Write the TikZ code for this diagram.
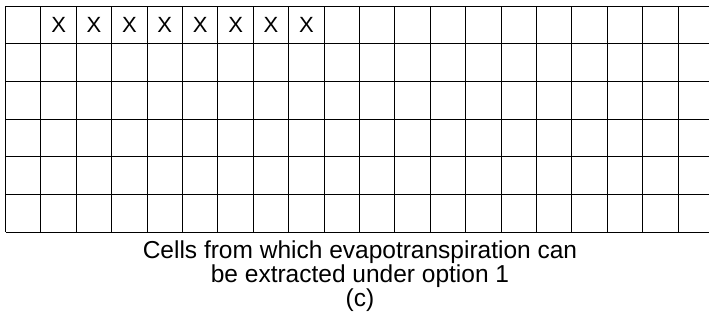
\documentclass[tikz,border=0pt]{standalone}
\usepackage{fontspec}
\setmainfont{Liberation Sans}
\usepackage{tikz}
\usetikzlibrary{positioning}

\tikzset{
  gridline/.style={draw=black, line width=1pt},
  xmark/.style={inner sep=0pt, font=\fontsize{22}{26}\selectfont},
  captionline/.style={inner sep=0pt, anchor=base, font=\fontsize{24.5}{28}\selectfont}
}

\begin{document}
\begin{tikzpicture}[x=1pt, y=-1pt]
  \useasboundingbox (0,0) rectangle (709,330);
  \begin{scope}
    \clip (0,0) rectangle (709,330);
    % rows
    \foreach \r in {0,...,6}
      \draw[gridline] (5.5,6+37.7*\r) -- (712,6+37.7*\r);
    % columns
    \foreach \c in {0,...,19}
      \draw[gridline] (5.5+35.4*\c,6) -- (5.5+35.4*\c,232.2);
  \end{scope}

  % marked cells of the first row
  \foreach \c in {1,...,8}
    \node[xmark] (x\c) at (5.5+35.4*\c+17.7,24.6) {X};

  \node[captionline] (cap1) at (360,258) {Cells from which evapotranspiration can};
  \node[captionline, below=24pt of cap1.base, anchor=base] (cap2) {be extracted under option 1};
  \node[captionline, below=24pt of cap2.base, anchor=base] (cap3) {(c)};
\end{tikzpicture}
\end{document}
